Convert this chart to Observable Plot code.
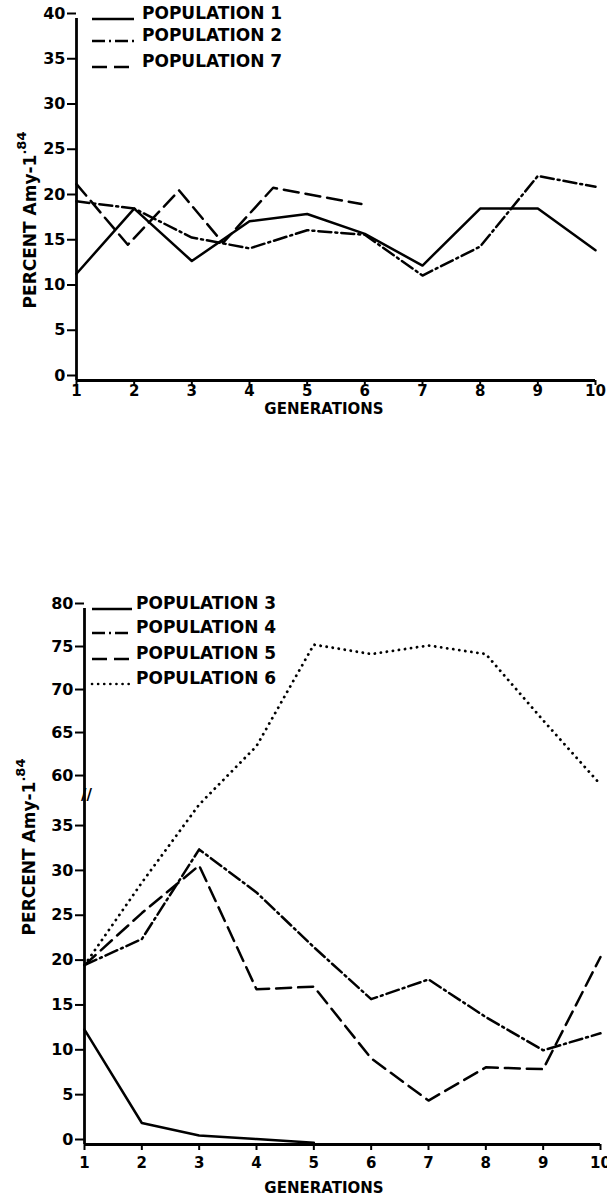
<!DOCTYPE html>
<html><head><meta charset="utf-8">
<script src="https://cdn.jsdelivr.net/npm/d3@7"></script>
<script src="https://cdn.jsdelivr.net/npm/@observablehq/plot@0.6"></script>
<style>
body{margin:0;background:#fff;}
#wrap{position:relative;width:607px;height:1199px;overflow:hidden;background:#fff;}
#wrap svg{position:absolute;left:0;}
</style></head><body><div id="wrap"></div>
<script>
// ---- data ----
const generations = [1, 2, 3, 4, 5, 6, 7, 8, 9, 10];
const pop1 = [11.8, 19.0, 13.2, 17.6, 18.4, 16.2, 12.7, 19.0, 19.0, 14.4];
const pop2 = [19.8, 19.0, 15.8, 14.6, 16.6, 16.1, 11.6, 14.8, 22.6, 21.4];
const pop7Gen = [1, 1.89, 2.78, 3.54, 4.41, 5.94];
const pop7 = [21.7, 15.0, 21.0, 15.2, 21.3, 19.5];
const pop3Gen = [1, 2, 3, 4, 5];
const pop3 = [12.8, 2.4, 1.0, 0.6, 0.2];
const pop4 = [20.0, 22.9, 32.9, 28.1, 22.0, 16.2, 18.4, 14.2, 10.5, 12.4];
const pop5 = [20.0, 25.8, 31.1, 17.3, 17.6, 9.6, 4.9, 8.6, 8.4, 20.9];
const pop6 = [20.0, 29.2, 48, 64.0, 75.8, 74.7, 75.7, 74.7, 67, 58];
const yTicksTop = [0, 5, 10, 15, 20, 25, 30, 35, 40];
const yTicksBottom = [0, 5, 10, 15, 20, 25, 30, 35, 60, 65, 70, 75, 80];
const breakValue = 52.5;
const legendTop = ["POPULATION 1", "POPULATION 2", "POPULATION 7"];
const legendBottom = ["POPULATION 3", "POPULATION 4", "POPULATION 5", "POPULATION 6"];

// broken-axis mapping for the lower panel (35..60 squeezed into a short gap)
const BREAK_LO = 35, BREAK_HI = 60, GAP_K = 0.223, UPPER_K = 0.959;
function compress(v) {
  if (v <= BREAK_LO) return v;
  if (v < BREAK_HI) return BREAK_LO + (v - BREAK_LO) * GAP_K;
  return BREAK_LO + (BREAK_HI - BREAK_LO) * GAP_K + (v - BREAK_HI) * UPPER_K;
}
const tickLabelOf = new Map(yTicksBottom.map(t => [compress(t), String(t)]));

const FONT = "DejaVu Sans";
const SOLID = null, DASHDOT = "13,4,2,4", DASHED = "15,7", DOTTED = "0.1,6";
const LW = 2.5;

function series(gens, vals, f = v => v) { return vals.map((v, i) => ({gen: gens[i], value: f(v)})); }

function lineMark(data, dash) {
  const o = {x: "gen", y: "value", stroke: "#000", strokeWidth: dash === DOTTED ? 2.8 : LW, strokeLinejoin: "round"};
  if (dash) o.strokeDasharray = dash;
  if (dash === DOTTED) o.strokeLinecap = "round";
  return Plot.line(data, o);
}

function addText(svg, x, y, txt, opts = {}) {
  return d3.select(svg).append("text")
    .attr("x", x).attr("y", y)
    .attr("font-family", FONT).attr("font-weight", "bold")
    .attr("font-size", opts.size || 16)
    .attr("text-anchor", opts.anchor || "start")
    .attr("dy", "0.36em")
    .attr("fill", "#000")
    .text(txt);
}

function addYLabel(svg, x, y) {
  const t = d3.select(svg).append("text")
    .attr("transform", `translate(${x},${y}) rotate(-90)`)
    .attr("text-anchor", "middle")
    .attr("font-family", FONT).attr("font-weight", "bold").attr("font-size", 17)
    .attr("dy", "0.36em").attr("fill", "#000");
  t.append("tspan").text("PERCENT Amy-1");
  t.append("tspan").attr("font-size", 13).attr("dy", "-0.75em").text(".84");
}

function addLegend(svg, labels, dashes, rowsY, x0, x1, tx) {
  const g = d3.select(svg).append("g");
  labels.forEach((lab, i) => {
    const l = g.append("line").attr("x1", x0).attr("x2", x1)
      .attr("y1", rowsY[i] + 6).attr("y2", rowsY[i] + 6)
      .attr("stroke", "#000").attr("stroke-width", dashes[i] === DOTTED ? 2.6 : LW);
    if (dashes[i]) l.attr("stroke-dasharray", dashes[i]);
    if (dashes[i] === DOTTED) l.attr("stroke-linecap", "round");
    addText(svg, tx, rowsY[i], lab, {size: 17});
  });
}

const common = {
  width: 607,
  style: {fontFamily: FONT, fontWeight: "bold", fontSize: "16px", color: "#000", background: "transparent", overflow: "visible"}
};
const wrap = document.getElementById("wrap");

// ---- top panel ----
const topChart = Plot.plot({
  ...common,
  height: 420,
  marginLeft: 76, marginRight: 12, marginTop: 18, marginBottom: 40,
  x: {domain: [1, 10]},
  y: {domain: [0, 40]},
  marks: [
    Plot.axisX(generations, {tickSize: 5, tickPadding: 0, strokeWidth: 2, fontSize: 15, fontWeight: "bold", label: null}),
    Plot.axisY(yTicksTop, {tickSize: 9, tickPadding: 2, dy: -5, strokeWidth: 2, fontSize: 16, fontWeight: "bold", label: null}),
    Plot.ruleX([1], {y1: 0, y2: 40, strokeWidth: 2.8}),
    Plot.ruleY([0], {x1: 1, x2: 10, strokeWidth: 2.8}),
    lineMark(series(generations, pop1), SOLID),
    lineMark(series(generations, pop2), DASHDOT),
    lineMark(series(pop7Gen, pop7), DASHED)
  ]
});
topChart.style.top = "0px";
addYLabel(topChart, 30, 220);
addText(topChart, 324, 409, "GENERATIONS", {anchor: "middle", size: 15});
addLegend(topChart, legendTop, [SOLID, DASHDOT, DASHED], [13, 35, 61], 92, 134, 142);
wrap.appendChild(topChart);

// ---- bottom panel (broken y axis) ----
const OFF = 580;
const bottomChart = Plot.plot({
  ...common,
  height: 619,
  marginLeft: 84, marginRight: 7, marginTop: 28, marginBottom: 55,
  x: {domain: [1, 10]},
  y: {domain: [0, compress(80)]},
  marks: [
    Plot.axisX(generations, {tickSize: 6, tickPadding: 7, strokeWidth: 2, fontSize: 15, fontWeight: "bold", label: null}),
    Plot.axisY(yTicksBottom.map(compress), {tickSize: 9, tickPadding: 2, dy: -5, strokeWidth: 2, fontSize: 16, fontWeight: "bold", label: null, tickFormat: d => tickLabelOf.get(d)}),
    Plot.ruleX([1], {y1: 0, y2: compress(80), strokeWidth: 2.8}),
    Plot.ruleY([0], {x1: 1, x2: 10, strokeWidth: 2.8}),
    Plot.text([compress(breakValue)], {x: 1, y: d => d, text: () => "//", fontSize: 15, fontWeight: "bold", fill: "#000", dx: 2}),
    lineMark(series(pop3Gen, pop3, compress), SOLID),
    lineMark(series(generations, pop4, compress), DASHDOT),
    lineMark(series(generations, pop5, compress), DASHED),
    lineMark(series(generations, pop6, compress), DOTTED)
  ]
});
bottomChart.style.top = OFF + "px";
addYLabel(bottomChart, 29, 847 - OFF);
addText(bottomChart, 324, 1188 - OFF, "GENERATIONS", {anchor: "middle", size: 15});
addLegend(bottomChart, legendBottom, [SOLID, DASHDOT, DASHED, DOTTED], [603 - OFF, 627 - OFF, 653 - OFF, 678 - OFF], 92, 132, 136);
wrap.appendChild(bottomChart);
</script></body></html>
